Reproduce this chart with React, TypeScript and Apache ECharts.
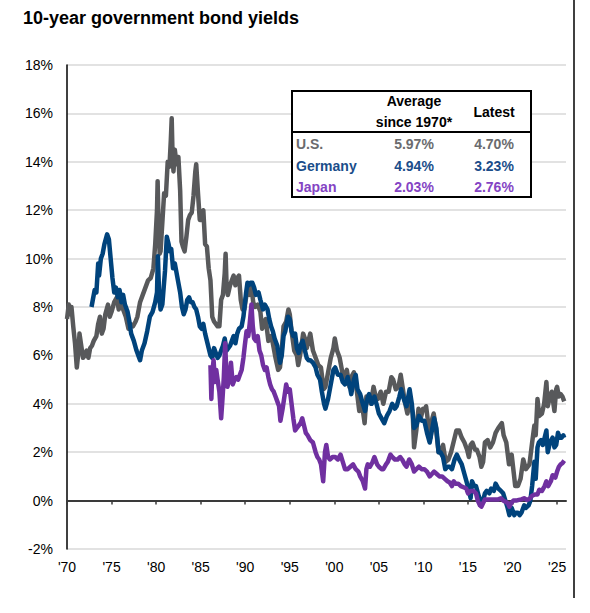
import React, { useEffect, useRef } from 'react';
import * as echarts from 'echarts';

const FONT = "'Liberation Sans', Arial, Helvetica, sans-serif";

const titleText = '10-year government bond yields';
const xTickYears = [1970, 1975, 1980, 1985, 1990, 1995, 2000, 2005, 2010, 2015, 2020, 2025];
const yMin = -2;
const yMax = 18;
const yStep = 2;

const seriesNames = ['U.S.', 'Germany', 'Japan'];
const seriesColors = ['#58595b', '#00437c', '#7030a0'];
const tableColors = ['#6a6b6e', '#1a4d8a', '#8444c4'];

const tableHeaderAvg = ['Average', 'since 1970*'];
const tableHeaderLatest = 'Latest';
const tableAverages = ['5.97%', '4.94%', '2.03%'];
const tableLatest = ['4.70%', '3.23%', '2.76%'];

const usData: [number, number][] = [
  [1970.0, 7.5], [1970.2, 8.1], [1970.4, 7.7], [1970.5, 8.0], [1970.7, 7.2], [1970.9, 6.5],
  [1971.0, 6.0], [1971.1, 5.5], [1971.3, 6.2], [1971.4, 6.9], [1971.6, 6.4], [1971.8, 5.9],
  [1972.0, 6.0], [1972.2, 6.2], [1972.4, 5.9], [1972.6, 6.3], [1972.8, 6.4], [1973.0, 6.6],
  [1973.3, 6.8], [1973.5, 7.3], [1973.7, 7.6], [1973.9, 6.9], [1974.1, 7.1], [1974.3, 7.7],
  [1974.6, 8.1], [1974.8, 7.6], [1975.0, 7.8], [1975.3, 8.2], [1975.6, 8.4], [1975.8, 7.9],
  [1976.0, 8.1], [1976.3, 7.9], [1976.6, 7.6], [1976.9, 7.1], [1977.1, 7.3], [1977.4, 7.2],
  [1977.7, 7.4], [1977.9, 7.6], [1978.2, 8.2], [1978.5, 8.5], [1978.8, 8.8], [1979.1, 9.1],
  [1979.4, 9.2], [1979.7, 9.6], [1979.9, 10.6], [1980.1, 12.0], [1980.17, 13.2], [1980.25, 11.8],
  [1980.4, 10.2], [1980.5, 10.3], [1980.7, 11.5], [1980.9, 12.7], [1981.1, 12.6], [1981.3, 14.0],
  [1981.5, 13.8], [1981.65, 14.9], [1981.75, 15.8], [1981.85, 14.2], [1981.95, 13.6], [1982.1, 14.5],
  [1982.3, 13.9], [1982.5, 14.2], [1982.7, 12.8], [1982.85, 10.7], [1983.0, 10.5], [1983.2, 10.3],
  [1983.4, 10.9], [1983.6, 11.6], [1983.8, 11.8], [1984.0, 11.9], [1984.2, 12.6], [1984.4, 13.6],
  [1984.5, 13.9], [1984.7, 12.7], [1984.9, 11.6], [1985.1, 11.6], [1985.3, 12.0], [1985.5, 10.6],
  [1985.7, 10.5], [1985.9, 9.6], [1986.1, 9.1], [1986.3, 7.6], [1986.5, 7.4], [1986.7, 7.3],
  [1986.9, 7.2], [1987.1, 7.2], [1987.3, 8.3], [1987.5, 8.5], [1987.7, 9.4], [1987.8, 10.2],
  [1987.9, 9.0], [1988.05, 8.5], [1988.3, 8.9], [1988.5, 9.1], [1988.7, 9.3], [1988.9, 8.9],
  [1989.1, 9.2], [1989.3, 9.3], [1989.5, 8.3], [1989.7, 7.9], [1989.9, 7.9], [1990.1, 8.4],
  [1990.3, 8.8], [1990.5, 8.5], [1990.7, 8.8], [1990.9, 8.2], [1991.1, 8.0], [1991.4, 8.1],
  [1991.7, 7.8], [1991.9, 7.1], [1992.1, 7.3], [1992.3, 7.5], [1992.6, 6.6], [1992.9, 6.8],
  [1993.1, 6.5], [1993.4, 5.9], [1993.7, 5.4], [1993.9, 5.5], [1994.1, 6.2], [1994.3, 7.2],
  [1994.6, 7.4], [1994.85, 7.9], [1995.0, 7.7], [1995.2, 7.0], [1995.5, 6.2], [1995.8, 6.0],
  [1995.95, 5.6], [1996.2, 6.1], [1996.5, 6.9], [1996.7, 6.7], [1996.9, 6.3], [1997.1, 6.6],
  [1997.3, 6.9], [1997.6, 6.2], [1997.9, 5.9], [1998.2, 5.6], [1998.5, 5.5], [1998.8, 4.6],
  [1999.0, 4.7], [1999.3, 5.3], [1999.6, 5.9], [1999.9, 6.3], [2000.05, 6.7], [2000.3, 6.2],
  [2000.6, 5.9], [2000.9, 5.3], [2001.1, 5.1], [2001.4, 5.4], [2001.7, 4.7], [2001.9, 5.1],
  [2002.2, 5.3], [2002.5, 4.6], [2002.8, 3.7], [2003.1, 4.0], [2003.4, 3.2], [2003.6, 4.3],
  [2003.9, 4.3], [2004.1, 4.0], [2004.4, 4.7], [2004.7, 4.2], [2004.9, 4.2], [2005.2, 4.5],
  [2005.5, 4.0], [2005.8, 4.5], [2006.1, 4.5], [2006.4, 5.1], [2006.6, 5.0], [2006.9, 4.6],
  [2007.2, 4.7], [2007.45, 5.2], [2007.7, 4.6], [2007.9, 4.1], [2008.2, 3.6], [2008.5, 4.1],
  [2008.8, 3.6], [2008.95, 2.2], [2009.2, 2.9], [2009.45, 3.8], [2009.7, 3.4], [2009.95, 3.8],
  [2010.2, 3.8], [2010.3, 3.9], [2010.6, 3.0], [2010.8, 2.6], [2011.0, 3.4], [2011.15, 3.6],
  [2011.4, 3.0], [2011.7, 2.0], [2011.9, 2.0], [2012.2, 2.3], [2012.5, 1.6], [2012.8, 1.7],
  [2013.1, 2.0], [2013.5, 2.6], [2013.7, 2.9], [2014.0, 2.9], [2014.3, 2.6], [2014.6, 2.4],
  [2014.9, 2.1], [2015.1, 1.8], [2015.3, 2.3], [2015.5, 2.4], [2015.8, 2.1], [2016.0, 2.1],
  [2016.3, 1.8], [2016.5, 1.4], [2016.7, 1.6], [2016.9, 2.4], [2017.2, 2.5], [2017.5, 2.2],
  [2017.8, 2.4], [2018.1, 2.8], [2018.4, 3.0], [2018.8, 3.2], [2019.0, 2.7], [2019.3, 2.4],
  [2019.6, 1.5], [2019.9, 1.9], [2020.15, 1.1], [2020.3, 0.6], [2020.6, 0.6], [2020.9, 0.9],
  [2021.2, 1.7], [2021.5, 1.3], [2021.9, 1.5], [2022.2, 2.4], [2022.45, 3.1], [2022.6, 2.7],
  [2022.8, 4.2], [2023.0, 3.5], [2023.3, 3.6], [2023.55, 4.0], [2023.8, 4.9], [2023.95, 3.9],
  [2024.2, 4.3], [2024.4, 4.5], [2024.7, 3.7], [2024.9, 4.6], [2025.0, 4.7], [2025.2, 4.3],
  [2025.4, 4.4], [2025.6, 4.3], [2025.8, 4.1],
];

const germanyData: [number, number][] = [
  [1972.75, 8.0], [1972.9, 8.3], [1973.1, 8.7], [1973.3, 8.6], [1973.5, 9.8], [1973.6, 9.3],
  [1973.8, 10.0], [1974.0, 10.2], [1974.2, 10.6], [1974.5, 11.0], [1974.7, 10.8], [1974.9, 10.0],
  [1975.1, 9.2], [1975.3, 8.6], [1975.5, 8.8], [1975.7, 8.4], [1975.9, 8.7], [1976.1, 8.2],
  [1976.3, 8.5], [1976.5, 8.1], [1976.8, 7.8], [1977.0, 7.4], [1977.2, 6.9], [1977.5, 6.6],
  [1977.8, 6.2], [1978.0, 6.0], [1978.2, 5.8], [1978.4, 6.2], [1978.7, 6.5], [1979.0, 7.0],
  [1979.3, 7.6], [1979.6, 7.8], [1979.9, 8.2], [1980.1, 8.6], [1980.2, 10.1], [1980.35, 8.4],
  [1980.5, 7.9], [1980.7, 8.1], [1980.85, 8.8], [1981.0, 9.5], [1981.2, 10.9], [1981.4, 10.6],
  [1981.55, 10.3], [1981.7, 10.4], [1981.9, 9.6], [1982.1, 9.8], [1982.3, 9.4], [1982.5, 9.0],
  [1982.7, 8.6], [1982.9, 8.0], [1983.1, 7.7], [1983.3, 7.9], [1983.5, 8.3], [1983.7, 8.4],
  [1983.9, 8.2], [1984.1, 8.2], [1984.3, 8.0], [1984.5, 7.9], [1984.7, 7.6], [1984.9, 7.2],
  [1985.1, 7.1], [1985.3, 7.3], [1985.5, 6.9], [1985.7, 6.6], [1985.9, 6.3], [1986.1, 6.0],
  [1986.3, 5.9], [1986.5, 6.3], [1986.7, 6.1], [1986.9, 5.9], [1987.1, 6.0], [1987.3, 6.2],
  [1987.5, 6.4], [1987.7, 6.7], [1987.9, 6.2], [1988.1, 6.3], [1988.3, 6.4], [1988.5, 6.6],
  [1988.7, 6.8], [1988.9, 6.5], [1989.1, 6.9], [1989.3, 7.1], [1989.6, 7.2], [1989.8, 7.6],
  [1989.95, 8.1], [1990.1, 8.6], [1990.25, 9.0], [1990.4, 8.9], [1990.6, 9.0], [1990.8, 9.0],
  [1991.0, 8.8], [1991.2, 8.5], [1991.5, 8.6], [1991.7, 8.3], [1992.0, 7.9], [1992.2, 8.1],
  [1992.5, 7.9], [1992.7, 7.5], [1992.9, 7.2], [1993.1, 7.0], [1993.3, 6.7], [1993.6, 6.4],
  [1993.9, 5.7], [1994.1, 6.0], [1994.3, 6.8], [1994.5, 7.0], [1994.8, 7.6], [1995.0, 7.5],
  [1995.2, 7.0], [1995.4, 6.8], [1995.6, 6.9], [1995.8, 6.3], [1996.0, 6.1], [1996.2, 6.4],
  [1996.45, 6.6], [1996.7, 6.2], [1996.9, 5.9], [1997.1, 5.8], [1997.3, 5.8], [1997.6, 5.7],
  [1997.9, 5.5], [1998.1, 5.2], [1998.4, 5.0], [1998.6, 4.5], [1998.85, 4.0], [1999.0, 3.8],
  [1999.3, 4.2], [1999.6, 4.8], [1999.9, 5.4], [2000.1, 5.5], [2000.4, 5.2], [2000.7, 5.2],
  [2000.95, 4.9], [2001.2, 4.8], [2001.5, 5.1], [2001.7, 4.8], [2001.9, 4.4], [2002.2, 5.0],
  [2002.4, 5.2], [2002.6, 4.6], [2002.9, 4.4], [2003.2, 4.0], [2003.45, 3.7], [2003.7, 4.2],
  [2003.9, 4.4], [2004.2, 4.0], [2004.5, 4.3], [2004.8, 3.9], [2005.0, 3.6], [2005.3, 3.4],
  [2005.6, 3.2], [2005.9, 3.5], [2006.2, 3.7], [2006.5, 4.0], [2006.8, 3.8], [2007.0, 3.9],
  [2007.3, 4.3], [2007.5, 4.6], [2007.8, 4.2], [2008.1, 3.9], [2008.45, 4.6], [2008.7, 4.0],
  [2008.95, 3.0], [2009.2, 3.1], [2009.5, 3.5], [2009.8, 3.3], [2010.1, 3.3], [2010.4, 2.8],
  [2010.7, 2.4], [2010.95, 2.9], [2011.2, 3.4], [2011.45, 3.0], [2011.7, 2.0], [2011.9, 2.0],
  [2012.2, 1.8], [2012.45, 1.3], [2012.7, 1.4], [2012.95, 1.4], [2013.2, 1.3], [2013.5, 1.7],
  [2013.75, 1.9], [2014.0, 1.7], [2014.3, 1.5], [2014.6, 1.1], [2014.9, 0.7], [2015.1, 0.4],
  [2015.3, 0.1], [2015.45, 0.8], [2015.7, 0.6], [2015.9, 0.6], [2016.2, 0.2], [2016.5, -0.1],
  [2016.7, 0.0], [2016.9, 0.3], [2017.1, 0.4], [2017.4, 0.3], [2017.6, 0.5], [2017.9, 0.4],
  [2018.1, 0.7], [2018.4, 0.5], [2018.7, 0.4], [2018.95, 0.3], [2019.2, 0.0], [2019.45, -0.3],
  [2019.65, -0.6], [2019.9, -0.3], [2020.2, -0.6], [2020.35, -0.5], [2020.6, -0.5], [2020.8, -0.6],
  [2021.0, -0.5], [2021.3, -0.2], [2021.5, -0.3], [2021.8, -0.2], [2022.0, 0.0], [2022.2, 0.6],
  [2022.45, 1.6], [2022.6, 0.9], [2022.8, 2.2], [2022.95, 2.4], [2023.2, 2.5], [2023.4, 2.3],
  [2023.6, 2.6], [2023.8, 2.9], [2023.95, 2.0], [2024.2, 2.4], [2024.5, 2.6], [2024.7, 2.2],
  [2024.9, 2.3], [2025.1, 2.8], [2025.3, 2.6], [2025.5, 2.6], [2025.7, 2.7], [2025.8, 2.6],
];

const japanData: [number, number][] = [
  [1986.1, 5.6], [1986.2, 4.2], [1986.3, 5.3], [1986.45, 5.8], [1986.6, 4.9], [1986.75, 5.4],
  [1986.9, 5.0], [1987.1, 4.5], [1987.3, 3.4], [1987.45, 4.2], [1987.6, 5.1], [1987.75, 6.5],
  [1987.85, 5.6], [1988.0, 4.7], [1988.2, 5.0], [1988.4, 5.7], [1988.6, 4.8], [1988.8, 5.0],
  [1989.0, 5.1], [1989.2, 5.0], [1989.4, 5.2], [1989.6, 5.4], [1989.8, 5.9], [1989.95, 6.4],
  [1990.15, 7.0], [1990.35, 6.8], [1990.5, 7.3], [1990.7, 8.1], [1990.85, 7.2], [1991.0, 6.7],
  [1991.2, 6.6], [1991.4, 6.8], [1991.6, 6.2], [1991.8, 6.0], [1992.0, 5.6], [1992.2, 5.4],
  [1992.4, 5.5], [1992.6, 5.1], [1992.8, 4.8], [1993.0, 4.6], [1993.2, 4.5], [1993.4, 4.3],
  [1993.6, 4.1], [1993.8, 3.9], [1993.95, 3.3], [1994.2, 3.8], [1994.4, 4.3], [1994.6, 4.8],
  [1994.8, 4.5], [1995.0, 4.6], [1995.2, 4.0], [1995.4, 3.4], [1995.6, 2.9], [1995.8, 3.0],
  [1996.0, 3.1], [1996.2, 3.2], [1996.4, 3.4], [1996.6, 3.1], [1996.8, 2.8], [1997.0, 2.7],
  [1997.3, 2.5], [1997.6, 2.4], [1997.9, 2.0], [1998.1, 1.8], [1998.3, 1.7], [1998.5, 1.5],
  [1998.75, 0.8], [1998.95, 2.0], [1999.1, 2.3], [1999.3, 1.8], [1999.5, 1.7], [1999.8, 1.8],
  [2000.1, 1.8], [2000.4, 1.7], [2000.7, 1.9], [2000.95, 1.6], [2001.2, 1.3], [2001.5, 1.3],
  [2001.8, 1.4], [2002.1, 1.5], [2002.4, 1.3], [2002.7, 1.2], [2002.9, 1.0], [2003.2, 0.8],
  [2003.45, 0.5], [2003.6, 1.3], [2003.75, 1.5], [2004.0, 1.4], [2004.3, 1.6], [2004.5, 1.8],
  [2004.8, 1.5], [2005.0, 1.4], [2005.3, 1.3], [2005.5, 1.3], [2005.8, 1.5], [2006.0, 1.6],
  [2006.3, 1.9], [2006.5, 1.8], [2006.8, 1.7], [2007.1, 1.7], [2007.4, 1.8], [2007.6, 1.7],
  [2007.9, 1.5], [2008.1, 1.4], [2008.4, 1.7], [2008.7, 1.5], [2008.95, 1.2], [2009.2, 1.3],
  [2009.5, 1.4], [2009.8, 1.3], [2010.1, 1.3], [2010.4, 1.2], [2010.7, 1.0], [2010.95, 1.1],
  [2011.2, 1.2], [2011.5, 1.1], [2011.8, 1.0], [2012.1, 1.0], [2012.4, 0.9], [2012.7, 0.8],
  [2012.95, 0.75], [2013.2, 0.6], [2013.4, 0.8], [2013.6, 0.7], [2013.9, 0.7], [2014.2, 0.6],
  [2014.5, 0.55], [2014.8, 0.5], [2015.0, 0.3], [2015.3, 0.4], [2015.6, 0.4], [2015.9, 0.3],
  [2016.1, 0.0], [2016.35, -0.2], [2016.5, -0.25], [2016.7, -0.1], [2016.9, 0.05], [2017.2, 0.05],
  [2017.5, 0.05], [2017.8, 0.05], [2018.1, 0.05], [2018.4, 0.05], [2018.7, 0.1], [2018.95, 0.0],
  [2019.2, -0.05], [2019.45, -0.1], [2019.65, -0.25], [2019.85, -0.1], [2020.1, 0.0], [2020.4, 0.0],
  [2020.7, 0.03], [2021.0, 0.05], [2021.3, 0.1], [2021.6, 0.03], [2021.9, 0.07], [2022.2, 0.2],
  [2022.5, 0.25], [2022.8, 0.25], [2023.0, 0.45], [2023.3, 0.4], [2023.6, 0.6], [2023.8, 0.8],
  [2024.0, 0.6], [2024.3, 0.8], [2024.5, 1.05], [2024.8, 0.95], [2025.0, 1.2], [2025.2, 1.4],
  [2025.4, 1.5], [2025.6, 1.55], [2025.8, 1.65],
];

const seriesData = [usData, germanyData, japanData];

export default function App() {
  const ref = useRef<HTMLDivElement>(null);

  useEffect(() => {
    if (!ref.current) return;
    const chart = echarts.init(ref.current, undefined, { renderer: 'svg' });

    const tableLeft = 292;
    const tableTop = 91;
    const tableW = 239;
    const tableH = 106;
    const avgX = 414;
    const latestX = 494;
    const rowY = [144, 166, 187];

    const graphic: any[] = [
      {
        type: 'text',
        left: 23,
        top: 9,
        style: { text: titleText, fontSize: 18, fontWeight: 'bold', fontFamily: FONT, fill: '#000' },
      },
      {
        type: 'line',
        shape: { x1: 574, y1: 0, x2: 574, y2: 598 },
        style: { stroke: '#000', lineWidth: 1.5 },
      },
      {
        type: 'rect',
        shape: { x: tableLeft, y: tableTop, width: tableW, height: tableH },
        style: { fill: '#fff', stroke: '#000', lineWidth: 2 },
        z: 100,
      },
      {
        type: 'line',
        shape: { x1: tableLeft, y1: 132, x2: tableLeft + tableW, y2: 132 },
        style: { stroke: '#000', lineWidth: 2 },
        z: 101,
      },
      {
        type: 'text', x: avgX, y: 101, z: 101,
        style: { text: tableHeaderAvg[0], fontSize: 14, fontWeight: 'bold', fontFamily: FONT, fill: '#000', align: 'center', verticalAlign: 'middle' },
      },
      {
        type: 'text', x: avgX, y: 122, z: 101,
        style: { text: tableHeaderAvg[1], fontSize: 14, fontWeight: 'bold', fontFamily: FONT, fill: '#000', align: 'center', verticalAlign: 'middle' },
      },
      {
        type: 'text', x: latestX, y: 112, z: 101,
        style: { text: tableHeaderLatest, fontSize: 14, fontWeight: 'bold', fontFamily: FONT, fill: '#000', align: 'center', verticalAlign: 'middle' },
      },
    ];

    seriesNames.forEach((name, i) => {
      const common = { fontSize: 14, fontWeight: 'bold', fontFamily: FONT, fill: tableColors[i], verticalAlign: 'middle' };
      graphic.push({ type: 'text', x: 296, y: rowY[i], z: 101, style: { ...common, text: name, align: 'left' } });
      graphic.push({ type: 'text', x: avgX, y: rowY[i], z: 101, style: { ...common, text: tableAverages[i], align: 'center' } });
      graphic.push({ type: 'text', x: latestX, y: rowY[i], z: 101, style: { ...common, text: tableLatest[i], align: 'center' } });
    });

    chart.setOption({
      animation: false,
      grid: { left: 67, right: 24, top: 65, bottom: 64, containLabel: false },
      xAxis: [
        {
          type: 'value',
          min: 1970,
          max: 2026,
          interval: 5,
          position: 'bottom',
          axisLine: { show: false, onZero: false },
          axisTick: { show: false },
          splitLine: { show: false },
          axisLabel: {
            customValues: xTickYears,
            formatter: (v: number) => (v % 5 === 0 ? "'" + String(v).slice(2) : ''),
            fontSize: 14,
            fontFamily: FONT,
            color: '#000',
            margin: 11,
          },
        },
        {
          type: 'value',
          min: 1970,
          max: 2026,
          interval: 5,
          position: 'top',
          axisLine: { show: true, onZero: true, lineStyle: { color: '#3a3a3a', width: 2 } },
          axisTick: { show: true, inside: true, length: 4, customValues: xTickYears, lineStyle: { color: '#3a3a3a', width: 1.5 } },
          axisLabel: { show: false },
          splitLine: { show: false },
        },
      ],
      yAxis: {
        type: 'value',
        min: yMin,
        max: yMax,
        interval: yStep,
        axisLine: { show: true, onZero: false, lineStyle: { color: '#000', width: 1.5 } },
        axisTick: { show: false },
        axisLabel: { formatter: '{value}%', fontSize: 14, fontFamily: FONT, color: '#000', margin: 14 },
        splitLine: { show: true, lineStyle: { color: '#d9d9d9', width: 1.5 } },
      },
      series: seriesNames.map((name, i) => ({
        name,
        type: 'line',
        xAxisIndex: 0,
        data: seriesData[i],
        showSymbol: false,
        symbol: 'none',
        lineStyle: { color: seriesColors[i], width: 4.5, join: 'round' },
        z: 2 + i,
      })),
      graphic,
    });

    return () => chart.dispose();
  }, []);

  return <div ref={ref} style={{ position: 'fixed', left: 0, top: 0, width: 590, height: 613, background: '#fff' }} />;
}
